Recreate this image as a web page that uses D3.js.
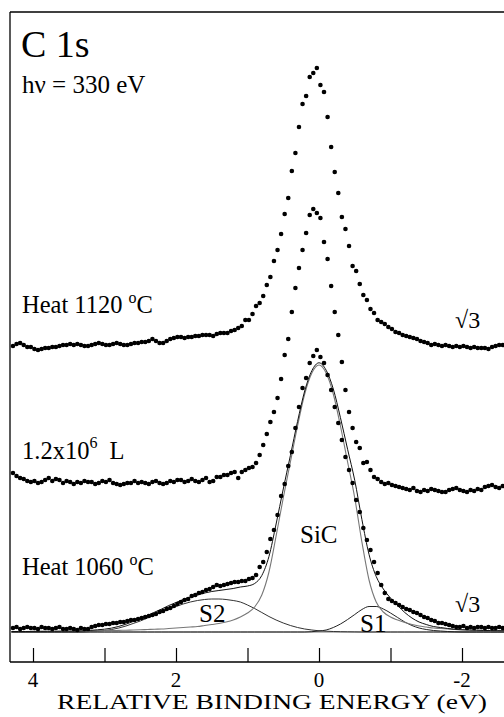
<!DOCTYPE html>
<html><head><meta charset="utf-8">
<script src="https://cdn.jsdelivr.net/npm/d3@7"></script>
<style>
html,body{margin:0;padding:0;background:#fff;}
svg{display:block;}
text{font-family:"Liberation Serif","Times New Roman",serif;fill:#000;}
</style></head>
<body>
<svg id="chart" width="504" height="717"></svg>
<script>
// ---- data (relative binding energy in eV, intensity in arbitrary counts) ----
const energies = [4.28,4.23,4.18,4.13,4.08,4.03,3.98,3.93,3.88,3.83,3.78,3.73,3.68,3.63,3.58,3.53,3.48,3.43,3.38,3.33,3.28,3.23,3.18,3.13,3.08,3.03,2.98,2.93,2.88,2.83,2.78,2.73,2.68,2.63,2.58,2.53,2.48,2.43,2.38,2.33,2.28,2.23,2.18,2.13,2.08,2.03,1.98,1.93,1.88,1.83,1.78,1.73,1.68,1.63,1.58,1.53,1.48,1.43,1.38,1.33,1.28,1.23,1.18,1.13,1.08,1.03,0.98,0.93,0.88,0.83,0.78,0.73,0.68,0.63,0.58,0.53,0.48,0.43,0.38,0.33,0.28,0.23,0.18,0.13,0.08,0.03,-0.02,-0.07,-0.12,-0.17,-0.22,-0.27,-0.32,-0.37,-0.42,-0.47,-0.52,-0.57,-0.62,-0.67,-0.72,-0.77,-0.82,-0.87,-0.92,-0.97,-1.02,-1.07,-1.12,-1.17,-1.22,-1.27,-1.32,-1.37,-1.42,-1.47,-1.52,-1.57,-1.62,-1.67,-1.72,-1.77,-1.82,-1.87,-1.92,-1.97,-2.02,-2.07,-2.12,-2.17,-2.22,-2.27,-2.32,-2.37,-2.42,-2.47,-2.52,-2.57,-2.62];

// Heat 1120 °C (top)
const heat1120 = [316,318,319,317,315,315,313,312,313,314, 314,315,315,316,317,317,318,317,318,317, 316,316,317,318,319,318,317,317,318,319, 318,317,317,318,319,319,320,320,321,323, 321,319,319,321,323,324,325,325,324,325, 325,326,326,327,327,327,326,328,329,329, 329,331,332,334,336,342,342,348,356,359, 366,377,385,401,412,428,448,464,491,509, 535,558,566,585,589,594,577,570,545,515, 490,469,445,433,416,396,391,378,367,362, 353,349,342,340,338,335,333,330,329,327, 326,325,324,323,321,320,319,317,318,317, 316,317,316,315,316,315,316,315,314,315, 314,314,314,313,315,316,317,317,318];

// 1.2x10^6 L (middle)
const exposure = [189,186,184,183,181,180,181,179,180,182, 184,181,183,182,179,181,180,178,180,179, 181,180,180,178,179,181,180,182,179,178, 177,178,179,179,181,179,180,179,178,180, 181,179,178,179,181,180,182,182,180,181, 183,181,180,182,184,180,181,185,185,187, 187,189,190,184,190,192,194,195,199,207, 217,228,240,250,264,283,307,323,350,374, 394,412,429,447,453,449,444,420,403,376, 350,327,300,272,250,234,220,214,199,200, 192,185,183,180,178,179,177,176,175,174, 173,172,174,171,170,172,171,173,172,171, 170,170,172,173,174,172,171,170,172,171, 173,172,175,176,177,175,174,176,177];

// Heat 1060 °C (bottom)
const heat1060 = [34,35,33,34,35,34,34,33,35,34, 34,33,34,35,33,33,34,33,32,34, 33,33,35,36,37,37,38,38,39,39, 40,40,41,42,42,43,44,45,46,47, 48,50,51,53,54,56,58,60,62,63, 66,67,69,70,72,73,75,77,76,77, 78,79,80,80,81,81,83,84,87,95, 100,110,123,132,147,166,178,196,210,234, 255,274,284,299,306,312,305,299,287,272, 255,239,222,205,192,179,162,150,134,122, 112,100,89,77,69,63,61,59,57,55, 53,52,50,49,47,45,44,42,41,39, 39,38,37,36,35,35,36,34,35,34, 35,35,34,35,34,34,35,34,35];

// Curve fit of the Heat 1060 °C spectrum (heights above the fit background)
const fitBackground = 30;
const fitEnergies = [4.3,4.2,4.1,4.0,3.9,3.8,3.7,3.6,3.5,3.4,3.3,3.2,3.1,3.0,2.9,2.8,2.7,2.6,2.5,2.4,2.3,2.2,2.1,2.0,1.9,1.8,1.7,1.6,1.5,1.4,1.3,1.2,1.1,1.0,0.9,0.8,0.7,0.6,0.5,0.4,0.3,0.2,0.1,0.0,-0.1,-0.2,-0.3,-0.4,-0.5,-0.6,-0.7,-0.8,-0.9,-1.0,-1.1,-1.2,-1.3,-1.4,-1.5,-1.6,-1.7,-1.8,-1.9,-2.0,-2.1,-2.2,-2.3,-2.4,-2.5,-2.6];
const fitSiC = [0.5,0.5,0.5,0.6,0.6,0.7,0.7,0.8,0.8,0.9,1.0,1.1,1.2,1.3,1.4,1.6,1.8,2.0,2.2,2.5,2.8,3.0,3.5,4.0,4.5,5.0,5.5,6.5,7.5,8.5,10,12,15,19,25,37,60,96,134,170,206,238,259,267,259,238,206,170,134,90,52,30,20,15,12,9.5,7.5,6,5,4,3.5,3,2.5,2.2,2.0,1.8,1.6,1.4,1.3,1.2];
const fitS2 = [0,0,0,0,0,0,0,0,0,0,0.1,0.5,1.0,1.5,2.5,4,6,8.5,11,14,17,20,23,25.5,28,30,31.5,32.5,33,33,32.5,31.5,30,27,23.5,19.5,15.5,12,9,6.5,4.5,3,2,1.2,0.8,0.5,0.3,0.2,0.1,0,0,0,0,0,0,0,0,0,0,0,0,0,0,0,0,0,0,0,0,0];
const fitS1 = [0,0,0,0,0,0,0,0,0,0,0,0,0,0,0,0,0,0,0,0,0,0,0,0,0,0,0,0,0,0,0,0,0,0,0,0,0,0,0,0,0,0,0.3,1,2,4.5,8,12.5,17.5,22.5,25.5,25.5,23,19,14.5,10,6.5,4,2.5,1.5,1,0.5,0.2,0,0,0,0,0,0,0];
const fitEnvelope = [0.5,0.5,0.5,0.6,0.6,0.7,0.7,0.8,0.8,0.9,1.1,1.6,2.2,2.8,3.9,5.6,7.8,10.5,13.2,16.5,19.8,23,26.5,29.5,32.5,35,37,39,40.5,41.5,42.5,43.5,45,46,48.5,56.5,75.5,108,143,176.5,210.5,241,261.3,269.2,261.8,243,214.3,182.7,151.6,112.5,77.5,55.5,43,34,26.5,19.5,14,10,7.5,5.5,4.5,3.5,2.7,2.2,2.0,1.8,1.6,1.4,1.3,1.2];

const xTicks = [4,3,2,1,0,-1,-2];
const xTickLabels = ["4","","2","","0","","-2"];

// ---- drawing ----
const svg = d3.select("#chart");
const plot = {left:10, top:12, right:504, bottom:662};
const x = d3.scaleLinear().domain([4.0, 0.0]).range([33, 319]);
const y = d3.scaleLinear().domain([0, 650]).range([662, 12]);

// frame
svg.append("line").attr("x1",plot.left).attr("x2",plot.left).attr("y1",plot.top).attr("y2",plot.bottom)
  .attr("stroke","#000").attr("stroke-width",1.3);
svg.append("line").attr("x1",plot.left).attr("x2",plot.right).attr("y1",plot.top).attr("y2",plot.top)
  .attr("stroke","#000").attr("stroke-width",1.3);

// x axis with inward ticks
const xAxis = d3.axisTop(x).tickValues(xTicks).tickSize(14).tickFormat("");
const gx = svg.append("g").attr("transform",`translate(0,${plot.bottom})`).call(xAxis);
gx.select(".domain").remove();
gx.selectAll(".tick line").attr("stroke","#000").attr("stroke-width",1.2);
svg.append("line").attr("x1",plot.left).attr("x2",plot.right).attr("y1",plot.bottom).attr("y2",plot.bottom)
  .attr("stroke","#000").attr("stroke-width",1.5);
svg.append("g").selectAll("text").data(xTicks.filter((d,i)=>xTickLabels[i] !== "")).join("text")
  .attr("x",d=>x(d)).attr("y",687).attr("text-anchor","middle").attr("font-size",21)
  .text(d=>xTickLabels[xTicks.indexOf(d)]);
svg.append("text").attr("x",272).attr("y",709).attr("text-anchor","middle").attr("font-size",21)
  .attr("textLength",430).attr("lengthAdjust","spacingAndGlyphs")
  .text("RELATIVE BINDING ENERGY (eV)");

// fit curves
const clip = svg.append("clipPath").attr("id","clipPlot").append("rect")
  .attr("x",plot.left).attr("y",plot.top).attr("width",plot.right-plot.left).attr("height",plot.bottom-plot.top);
const gFit = svg.append("g").attr("clip-path","url(#clipPlot)");
const fitLine = vals => d3.line().curve(d3.curveMonotoneX)
  .x((d,i)=>x(fitEnergies[i])).y((d,i)=>y(fitBackground + vals[i]))(fitEnergies);
gFit.append("line").attr("x1",plot.left).attr("x2",plot.right)
  .attr("y1",y(fitBackground)).attr("y2",y(fitBackground)).attr("stroke","#777").attr("stroke-width",1.2);
gFit.append("path").attr("d",fitLine(fitS2)).attr("fill","none").attr("stroke","#333").attr("stroke-width",1);
gFit.append("path").attr("d",fitLine(fitS1)).attr("fill","none").attr("stroke","#222").attr("stroke-width",1);
gFit.append("path").attr("d",fitLine(fitSiC)).attr("fill","none").attr("stroke","#777").attr("stroke-width",1.1);
gFit.append("path").attr("d",fitLine(fitEnvelope)).attr("fill","none").attr("stroke","#111").attr("stroke-width",1);

// data points
const gDots = svg.append("g").attr("clip-path","url(#clipPlot)");
[heat1120, exposure, heat1060].forEach(series=>{
  gDots.append("g").selectAll("circle").data(series).join("circle")
    .attr("cx",(d,i)=>x(energies[i])).attr("cy",d=>y(d)).attr("r",2.3).attr("fill","#000");
});

// labels
svg.append("text").attr("x",21).attr("y",57).attr("font-size",38).text("C 1s");
svg.append("text").attr("x",22).attr("y",93).attr("font-size",25).text("hν = 330 eV");

function tempLabel(yy, temp){
  const t = svg.append("text").attr("x",22).attr("y",yy).attr("font-size",24.5);
  t.append("tspan").text("Heat " + temp + " ");
  t.append("tspan").attr("font-size",16).attr("dy",-10).text("o");
  t.append("tspan").attr("dy",10).text("C");
}
tempLabel(313, "1120");
tempLabel(575, "1060");
const ex = svg.append("text").attr("x",22).attr("y",459).attr("font-size",24.5);
ex.append("tspan").text("1.2x10");
ex.append("tspan").attr("font-size",16).attr("dy",-11).text("6");
ex.append("tspan").attr("dy",11).attr("dx",6).text(" L");

svg.append("text").attr("x",455).attr("y",328).attr("font-size",24).text("√3");
svg.append("text").attr("x",455).attr("y",612).attr("font-size",24).text("√3");
svg.append("text").attr("x",300).attr("y",543).attr("font-size",25).text("SiC");
svg.append("text").attr("x",199).attr("y",622).attr("font-size",25).text("S2");
svg.append("text").attr("x",360).attr("y",632).attr("font-size",25).text("S1");
</script>
</body></html>
